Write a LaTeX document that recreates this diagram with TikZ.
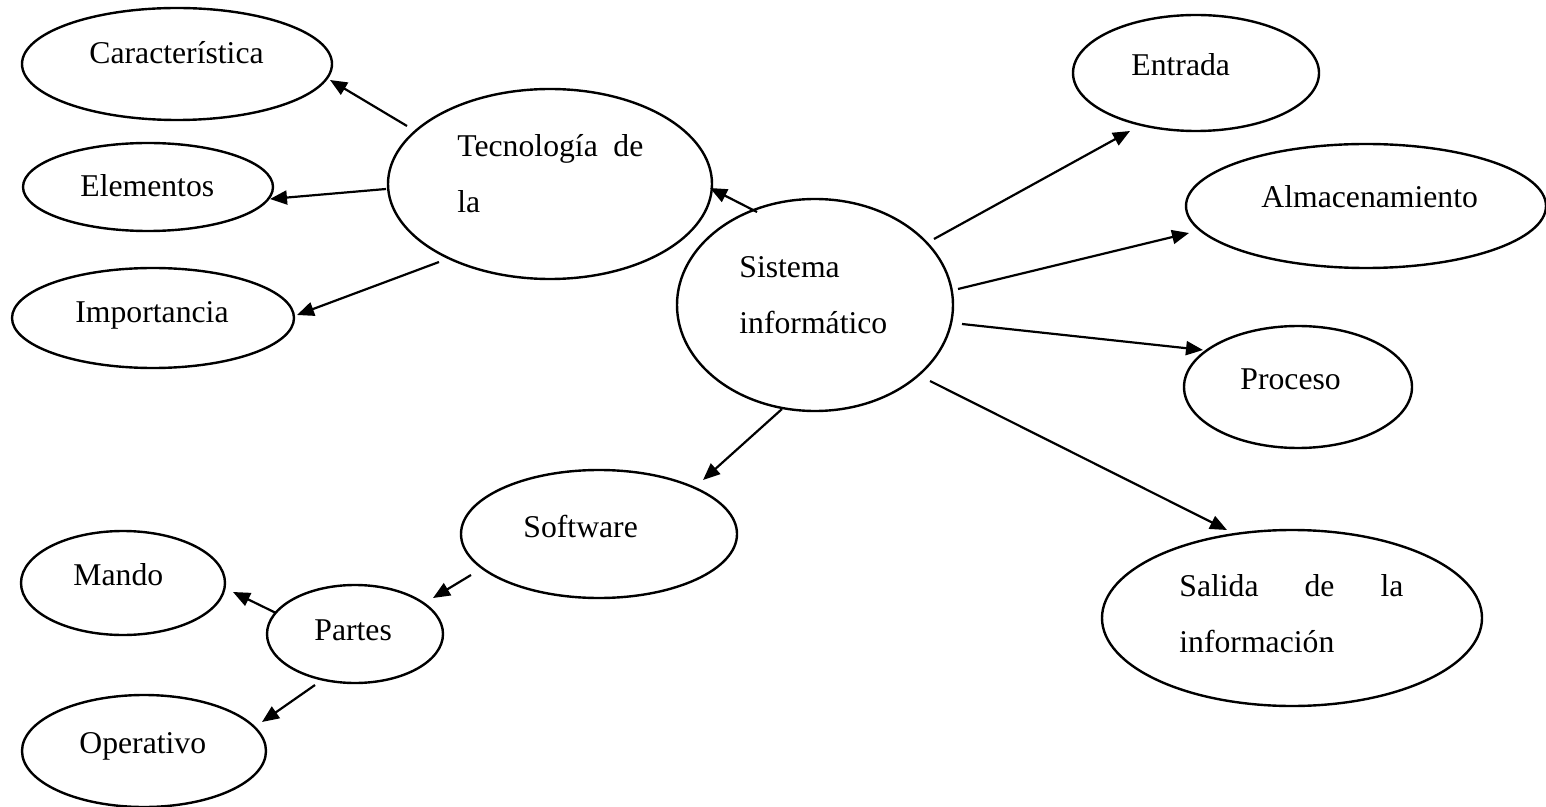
\documentclass[tikz,border=0pt]{standalone}
\usepackage{fontspec}
\setmainfont{Liberation Serif}
\usetikzlibrary{shapes.geometric,arrows.meta}
\tikzset{
  bub/.style={draw, ellipse, line width=1.2pt, inner sep=0pt},
  lbl/.style={anchor=base west, inner sep=0pt, font=\fontsize{15.85}{19}\selectfont},
  arr/.style={-{Triangle[length=8.5pt,width=7pt]}, line width=1.1pt}
}
\begin{document}
\begin{tikzpicture}[x=0.5pt,y=-0.5pt]
\useasboundingbox (0,0) rectangle (1546,807);
% ellipses (minimum width = rx pt, height = ry pt)
\node[bub, minimum width=155pt, minimum height=56pt] (car) at (177,64) {};
\node[bub, minimum width=125pt, minimum height=44pt] (ele) at (148,187) {};
\node[bub, minimum width=141pt, minimum height=50pt] (imp) at (153,318) {};
\node[bub, minimum width=162pt, minimum height=95pt] (tec) at (550,184) {};
\node[bub, minimum width=138pt, minimum height=106pt] (sis) at (815,305) {};
\node[bub, minimum width=123pt, minimum height=58pt] (ent) at (1196,73) {};
\node[bub, minimum width=180pt, minimum height=62pt] (alm) at (1366,206) {};
\node[bub, minimum width=114pt, minimum height=61pt] (pro) at (1298,387) {};
\node[bub, minimum width=190pt, minimum height=88pt] (sal) at (1292,618) {};
\node[bub, minimum width=138pt, minimum height=64pt] (sof) at (599,534) {};
\node[bub, minimum width=102pt, minimum height=52pt] (man) at (123,583) {};
\node[bub, minimum width=88pt, minimum height=49pt] (par) at (355,634) {};
\node[bub, minimum width=122pt, minimum height=56pt] (ope) at (144,751) {};
% texts
\node[lbl] (tcar) at (89,64) {Característica};
\node[lbl] (tele) at (80,197) {Elementos};
\node[lbl] (timp) at (75,323) {Importancia};
\node[lbl] (ttec1) at (457,157) {\makebox[93pt][s]{Tecnología\hfill de}};
\node[lbl] (ttec2) at (457,213) {la};
\node[lbl] (tsis1) at (739,278) {Sistema};
\node[lbl] (tsis2) at (739,334) {informático};
\node[lbl] (tent) at (1131,76) {Entrada};
\node[lbl] (talm) at (1261,208) {Almacenamiento};
\node[lbl] (tpro) at (1240,389) {Proceso};
\node[lbl] (tsal1) at (1179,596) {\makebox[112pt][s]{Salida\hfill de\hfill la}};
\node[lbl] (tsal2) at (1179,652) {información};
\node[lbl] (tsof) at (523,537) {Software};
\node[lbl] (tman) at (73,585) {Mando};
\node[lbl] (tpar) at (314,640) {Partes};
\node[lbl] (tope) at (79,753) {Operativo};
% connector end points
\coordinate (tc1) at (407,126);  \coordinate (tc2) at (330,80);
\coordinate (te1) at (386,189);  \coordinate (te2) at (270,199);
\coordinate (ti1) at (439,262);  \coordinate (ti2) at (297,315);
\coordinate (st1) at (757,212);  \coordinate (st2) at (710,188);
\coordinate (se1) at (934,239);  \coordinate (se2) at (1130,131);
\coordinate (sa1) at (958,289);  \coordinate (sa2) at (1189,233);
\coordinate (sp1) at (962,324);  \coordinate (sp2) at (1203,350);
\coordinate (ss1) at (930,381);  \coordinate (ss2) at (1227,530);
\coordinate (so1) at (782,409);  \coordinate (so2) at (703,480);
\coordinate (fp1) at (471,575);  \coordinate (fp2) at (433,598);
\coordinate (pm1) at (276,613);  \coordinate (pm2) at (233,592);
\coordinate (po1) at (315,685);  \coordinate (po2) at (262,722);
% connectors
\draw[arr] (tc1) -- (tc2);
\draw[arr] (te1) -- (te2);
\draw[arr] (ti1) -- (ti2);
\draw[arr] (st1) -- (st2);
\draw[arr] (se1) -- (se2);
\draw[arr] (sa1) -- (sa2);
\draw[arr] (sp1) -- (sp2);
\draw[arr] (ss1) -- (ss2);
\draw[arr] (so1) -- (so2);
\draw[arr] (fp1) -- (fp2);
\draw[arr] (pm1) -- (pm2);
\draw[arr] (po1) -- (po2);
\end{tikzpicture}
\end{document}
